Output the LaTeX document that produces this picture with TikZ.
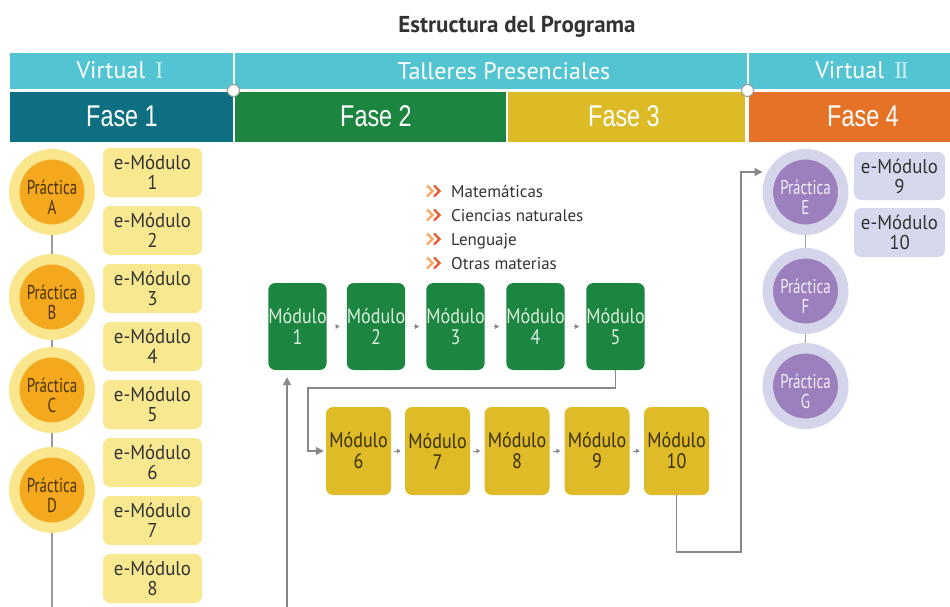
\documentclass[tikz,border=0pt]{standalone}
\usepackage{fontspec}
\setmainfont{PT Sans}
\newfontfamily\condA[FakeStretch=0.75]{PT Sans}
\newfontfamily\condB[FakeStretch=0.86]{PT Sans}
\newfontfamily\condC[FakeStretch=0.94]{PT Sans}
\newfontfamily\fasefont[FakeStretch=0.78]{Liberation Sans}
\newfontfamily\romfont{Liberation Serif}
\usetikzlibrary{arrows.meta,calc}
\definecolor{cyanband}{HTML}{53C4D1}
\definecolor{faseA}{HTML}{0F6F82}
\definecolor{faseB}{HTML}{1C853F}
\definecolor{faseC}{HTML}{DDBB26}
\definecolor{faseD}{HTML}{E67227}
\definecolor{ringY}{HTML}{F9E68D}
\definecolor{orangeC}{HTML}{F4A81E}
\definecolor{emodY}{HTML}{F8E890}
\definecolor{ringP}{HTML}{D4D4EA}
\definecolor{purpleC}{HTML}{9C80BE}
\definecolor{emodP}{HTML}{D6D8EE}
\definecolor{modGc}{HTML}{1B8541}
\definecolor{modGt}{HTML}{DCEEDC}
\definecolor{modYc}{HTML}{DFBB27}
\definecolor{modYt}{HTML}{3A2F00}
\definecolor{lineg}{HTML}{9B9B9B}
\definecolor{arrg}{HTML}{888888}
\definecolor{textdark}{HTML}{333333}
\definecolor{pracYt}{HTML}{4A3300}
\definecolor{pracPt}{HTML}{F4EFF9}
\definecolor{numc}{HTML}{CDEFF3}
\definecolor{chevA}{HTML}{F7A85A}
\definecolor{chevB}{HTML}{E85A2E}
\begin{document}
\begin{tikzpicture}[x=1pt,y=-1pt,
  band/.style={rectangle, inner sep=0pt, outer sep=0pt, anchor=north west},
  hdrtext/.style={anchor=base, inner sep=0pt, text=white, font=\fontsize{24}{26}\selectfont},
  fasetext/.style={anchor=base, inner sep=0pt, text=white, font=\fasefont\fontsize{30}{32}\selectfont},
  pracY/.style={circle, minimum size=75.5pt, fill=orangeC, draw=ringY, line width=10.5pt, outer sep=5.25pt},
  pracP/.style={circle, minimum size=75.5pt, fill=purpleC, draw=ringP, line width=10.5pt, outer sep=5.25pt},
  practext/.style={align=center, inner sep=0pt, font=\condA\fontsize{20}{20}\selectfont},
  emod/.style={rectangle, rounded corners=7pt, minimum width=99pt, minimum height=49pt, fill=emodY, align=center, inner sep=0pt, text=textdark, font=\condC\fontsize{20}{20}\selectfont},
  emodp/.style={emod, minimum width=91pt, fill=emodP},
  modbox/.style={rectangle, rounded corners=7pt, align=center, inner sep=0pt, font=\condB\fontsize{21}{21}\selectfont},
  modg/.style={modbox, minimum width=55pt, minimum height=87pt, fill=modGc, text=modGt},
  mody/.style={modbox, minimum width=65pt, minimum height=88pt, fill=modYc, text=modYt},
  vline/.style={draw=lineg, line width=1.8pt},
  flow/.style={draw=arrg, line width=1.6pt, -{Triangle[length=8pt,width=8pt]}},
  tinyarrow/.style={draw=arrg, line width=1pt, -{Triangle[length=4pt,width=4.5pt]}},
  bullet/.style={anchor=base west, inner sep=0pt, text=textdark, font=\fontsize{17}{18}\selectfont},
  chev/.style={line width=2.2pt, line cap=round, line join=miter}
]
\useasboundingbox (0,0) rectangle (950,607);

% title
\node[anchor=base, inner sep=0pt, text=textdark, font=\bfseries\fontsize{23}{26}\selectfont] (title) at (517,33) {Estructura del Programa};

% header row 1
\node[band, fill=cyanband, minimum width=222.5pt, minimum height=36pt] (bv1) at (10,53) {};
\node[band, fill=cyanband, minimum width=512pt, minimum height=36pt] (btp) at (234.5,53) {};
\node[band, fill=cyanband, minimum width=201.5pt, minimum height=36pt] (bv2) at (748.5,53) {};
\node[hdrtext] (tv1) at (120,79) {Virtual\hspace{10pt}{\romfont\color{numc}I}};
\node[hdrtext] (ttp) at (504,80) {Talleres Presenciales};
\node[hdrtext] (tv2) at (862,79) {Virtual\hspace{10pt}{\romfont\color{numc}I\kern-1.6pt I}};

% header row 2
\node[band, fill=faseA, minimum width=222.5pt, minimum height=50pt] (bf1) at (10,92) {};
\node[band, fill=faseB, minimum width=271pt, minimum height=50pt] (bf2) at (234.5,92) {};
\node[band, fill=faseC, minimum width=237pt, minimum height=50pt] (bf3) at (508,92) {};
\node[band, fill=faseD, minimum width=201.5pt, minimum height=50pt] (bf4) at (748.5,92) {};
\node[fasetext] (tf1) at (122,127) {Fase 1};
\node[fasetext] (tf2) at (376,127) {Fase 2};
\node[fasetext] (tf3) at (624,127) {Fase 3};
\node[fasetext] (tf4) at (863,127) {Fase 4};

% junction dots
\node[circle, fill=white, draw=lineg, line width=1pt, minimum size=12pt, inner sep=0pt] (j1) at (233.5,90.5) {};
\node[circle, fill=white, draw=lineg, line width=1pt, minimum size=12pt, inner sep=0pt] (j2) at (747.5,90.5) {};

% left column: Practica A-D
\node[pracY] (pA) at (52,192) {};
\node[pracY] (pB) at (52,297) {};
\node[pracY] (pC) at (52,390) {};
\node[pracY] (pD) at (52,490) {};
\coordinate (lb) at (52,607);
\draw[vline] (pA) -- (pB);
\draw[vline] (pB) -- (pC);
\draw[vline] (pC) -- (pD);
\draw[vline] (pD) -- (lb);
\node[practext, text=pracYt] (pAt) at (52,197) {Práctica\\A};
\node[practext, text=pracYt] (pBt) at (52,302) {Práctica\\B};
\node[practext, text=pracYt] (pCt) at (52,395) {Práctica\\C};
\node[practext, text=pracYt] (pDt) at (52,495) {Práctica\\D};

% e-Modulos 1-8
\foreach \k in {1,...,8}{
  \node[emod] (e\k) at (152.5,{172.5+58*(\k-1)}) {e-Módulo\\\k};
}

% right column: Practica E-G
\node[pracP] (pE) at (805.5,192) {};
\node[pracP] (pF) at (805.5,291) {};
\node[pracP] (pG) at (805.5,386) {};
\draw[vline] (pE) -- (pF);
\draw[vline] (pF) -- (pG);
\node[practext, text=pracPt] (pEt) at (805.5,197) {Práctica\\E};
\node[practext, text=pracPt] (pFt) at (805.5,296) {Práctica\\F};
\node[practext, text=pracPt] (pGt) at (805.5,391) {Práctica\\G};
\node[emodp, minimum height=48pt] (e9) at (899.5,176) {e-Módulo\\9};
\node[emodp] (e10) at (899.5,232.5) {e-Módulo\\10};

% subject list
\node[bullet] (b1) at (451,197) {Matemáticas};
\node[bullet] (b2) at (451,221) {Ciencias naturales};
\node[bullet] (b3) at (451,245) {Lenguaje};
\node[bullet] (b4) at (451,269) {Otras materias};
\foreach \b in {b1,b2,b3,b4}{
  \draw[chev, chevA] ($(\b.base west)+(-23.5,-11)$) -- ++(5,5) -- ++(-5,5);
  \draw[chev, chevB] ($(\b.base west)+(-16.5,-11)$) -- ++(5,5) -- ++(-5,5);
}

% green modules 1-5
\node[modg] (m1) at (297.5,326.5) {Módulo\\1};
\node[modg] (m2) at (376,326.5) {Módulo\\2};
\node[modg] (m3) at (455.5,326.5) {Módulo\\3};
\node[modg] (m4) at (535.5,326.5) {Módulo\\4};
\node[modg] (m5) at (615.5,326.5) {Módulo\\5};
% yellow modules 6-10
\node[mody] (m6) at (358.5,451) {Módulo\\6};
\node[mody] (m7) at (437.5,451) {Módulo\\7};
\node[mody] (m8) at (517,451) {Módulo\\8};
\node[mody] (m9) at (597,451) {Módulo\\9};
\node[mody] (m10) at (676.5,451) {Módulo\\10};

% small arrows between modules
\foreach \a/\b in {m1/m2,m2/m3,m3/m4,m4/m5}{
  \draw[tinyarrow, shorten <=9pt, shorten >=7pt] (\a) -- (\b);
}
\foreach \a/\b in {m6/m7,m7/m8,m8/m9,m9/m10}{
  \draw[tinyarrow, shorten <=3pt, shorten >=4pt] (\a) -- (\b);
}

% main flow connectors
\coordinate (k1) at (308,388);
\draw[flow, shorten >=2pt] (m5.south) |- (k1) |- (m6.west);
\coordinate (k2) at (741,552);
\draw[flow] (m10.south) |- (k2) |- ([yshift=20pt]pE.west);
\coordinate (k3) at (287,607);
\draw[flow, shorten >=7pt] (k3) -- (k3 |- m1.south);
\end{tikzpicture}
\end{document}
